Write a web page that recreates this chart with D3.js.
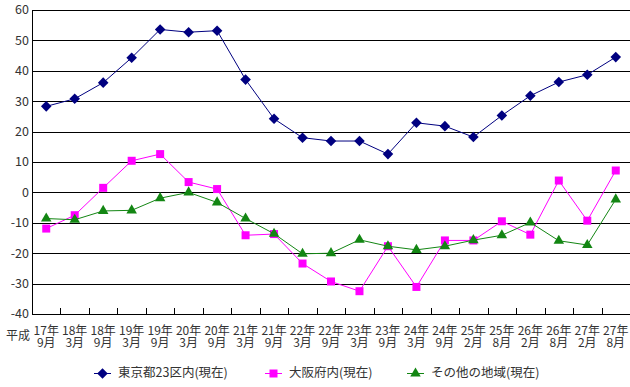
<!DOCTYPE html>
<html>
<head>
<meta charset="utf-8">
<script src="https://cdn.jsdelivr.net/npm/d3@7"></script>
<style>
  body { margin: 0; background: #fff; }
  svg text { font-family: "Noto Sans CJK JP", "Noto Sans", sans-serif; fill: #333; }
</style>
</head>
<body>
<svg id="chart"></svg>
<script>
// ---------------- data ----------------
var periodYears = ['17年','18年','18年','19年','19年','20年','20年','21年','21年','22年','22年',
  '23年','23年','24年','24年','25年','25年','26年','26年','27年','27年'];
var periodMonths = ['9月','3月','9月','3月','9月','3月','9月','3月','9月','3月','9月',
  '3月','9月','3月','9月','2月','8月','2月','8月','2月','8月'];

var tokyo = [28.3, 30.8, 36.1, 44.3, 53.6, 52.7, 53.2, 37.1, 24.2, 18.0, 16.9,
  16.9, 12.6, 22.9, 21.8, 18.2, 25.3, 31.8, 36.3, 38.7, 44.5];
var osaka = [-11.9, -7.5, 1.5, 10.4, 12.6, 3.4, 1.1, -14.1, -13.7, -23.4, -29.3,
  -32.5, -17.7, -31.1, -15.8, -15.8, -9.5, -13.9, 3.9, -9.3, 7.2];
var others = [-8.6, -9.0, -6.1, -5.9, -1.9, 0.0, -3.3, -8.6, -13.6, -20.2, -20.0,
  -15.6, -17.7, -18.9, -17.7, -15.7, -14.1, -9.9, -15.9, -17.3, -2.3];

var yTicks = [60, 50, 40, 30, 20, 10, 0, -10, -20, -30, -40];

var series = [
  { name: '東京都23区内(現在)', values: tokyo, color: '#000080', symbol: d3.symbolSquare, size: 56, rot: 45 },
  { name: '大阪府内(現在)', values: osaka, color: '#ff00ff', symbol: d3.symbolSquare, size: 64, rot: 0 },
  { name: 'その他の地域(現在)', values: others, color: '#138613', symbol: d3.symbolTriangle, size: 48, rot: 0 }
];

// ---------------- layout ----------------
var width = 630, height = 387;
var padL = 32, padR = 630, padT = 10, padB = 314;

var svg = d3.select('#chart').attr('width', width).attr('height', height);

var x = d3.scaleBand().domain(d3.range(periodYears.length)).range([padL, padR]);
var y = d3.scaleLinear().domain([-40, 60]).range([padB, padT]);
var cx = i => x(i) + x.bandwidth() / 2;

// gridlines
svg.append('g')
  .selectAll('line')
  .data(yTicks)
  .enter().append('line')
    .attr('x1', padL).attr('x2', padR)
    .attr('y1', d => Math.round(y(d)) + 0.5)
    .attr('y2', d => Math.round(y(d)) + 0.5)
    .attr('stroke', '#000').attr('stroke-width', 1);

// left axis line
svg.append('line')
  .attr('x1', padL + 0.5).attr('x2', padL + 0.5)
  .attr('y1', padT).attr('y2', padB + 0.5)
  .attr('stroke', '#000');

// y labels
svg.append('g')
  .selectAll('text')
  .data(yTicks)
  .enter().append('text')
    .attr('x', padL - 3)
    .attr('y', d => y(d))
    .attr('dy', '0.35em')
    .attr('text-anchor', 'end')
    .attr('font-size', 12.5)
    .text(d => d);

// category boundary ticks (inside, upward)
svg.append('g')
  .selectAll('line')
  .data(d3.range(1, periodYears.length))
  .enter().append('line')
    .attr('x1', d => Math.round(x(d)) + 0.5)
    .attr('x2', d => Math.round(x(d)) + 0.5)
    .attr('y1', padB - 6).attr('y2', padB)
    .attr('stroke', '#000');

// x labels, two rows
svg.append('g')
  .selectAll('text')
  .data(periodYears)
  .enter().append('text')
    .attr('x', (d, i) => cx(i))
    .attr('y', 335)
    .attr('text-anchor', 'middle')
    .attr('font-size', 12)
    .text(d => d);

svg.append('g')
  .selectAll('text')
  .data(periodMonths)
  .enter().append('text')
    .attr('x', (d, i) => cx(i))
    .attr('y', 347)
    .attr('text-anchor', 'middle')
    .attr('font-size', 12)
    .text(d => d);

svg.append('text')
  .attr('x', 18).attr('y', 340)
  .attr('text-anchor', 'middle')
  .attr('font-size', 12)
  .text('平成');

// lines + markers
var line = d3.line()
  .x((d, i) => cx(i))
  .y(d => y(d));

series.forEach(function(s) {
  svg.append('path')
    .datum(s.values)
    .attr('d', line)
    .attr('fill', 'none')
    .attr('stroke', s.color)
    .attr('stroke-width', 1);

  svg.append('g')
    .selectAll('path')
    .data(s.values)
    .enter().append('path')
      .attr('d', d3.symbol().type(s.symbol).size(s.size))
      .attr('transform', (d, i) => `translate(${cx(i)},${y(d)}) rotate(${s.rot})`)
      .attr('fill', s.color);
});

// legend
var legendX = [94, 265, 407];
var legend = svg.append('g')
  .selectAll('g')
  .data(series)
  .enter().append('g')
    .attr('transform', (d, i) => `translate(${legendX[i]},373)`);

legend.append('line')
  .attr('x1', 0).attr('x2', 17)
  .attr('y1', 0.5).attr('y2', 0.5)
  .attr('stroke', d => d.color);
legend.append('path')
  .attr('d', d => d3.symbol().type(d.symbol).size(d.size)())
  .attr('transform', d => `translate(8.5,0.5) rotate(${d.rot})`)
  .attr('fill', d => d.color);
legend.append('text')
  .attr('x', 24)
  .attr('y', 0)
  .attr('dy', '0.35em')
  .attr('font-size', 12.5)
  .text(d => d.name);
</script>
</body>
</html>
